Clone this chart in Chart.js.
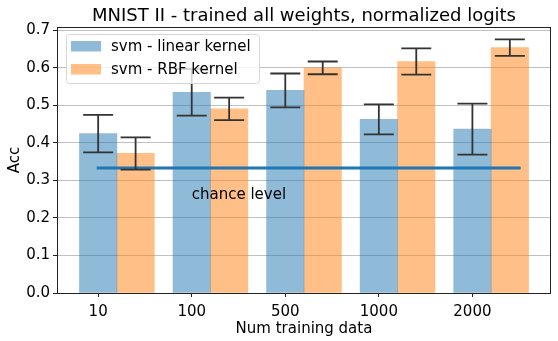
<!DOCTYPE html>
<html lang="en">
<head>
    <meta charset="UTF-8">
    <title>MNIST II - trained all weights, normalized logits</title>
    <script src="https://cdn.jsdelivr.net/npm/chart.js"></script>
    <style>
        html, body { margin: 0; padding: 0; background: #fff; }
        #wrap { width: 558px; height: 341px; position: relative; }
    </style>
</head>
<body>
    <div id="wrap"><canvas id="chart"></canvas></div>

    <script>
        // data
        const categories = ['10', '100', '500', '1000', '2000'];
        const linearAcc = [0.425, 0.535, 0.540, 0.463, 0.437];
        const linearErr = [0.050, 0.062, 0.045, 0.040, 0.068];
        const rbfAcc = [0.372, 0.491, 0.600, 0.617, 0.654];
        const rbfErr = [0.043, 0.030, 0.017, 0.035, 0.022];
        const chanceLevel = 0.333;
        const chanceSpan = [0, 4.5];
        const yTicks = [0, 0.1, 0.2, 0.3, 0.4, 0.5, 0.6, 0.7];

        const FONT = 'DejaVu Sans';
        Chart.defaults.font.family = FONT;
        Chart.defaults.color = '#000';

        const barOffset = 0.4;   // rbf bar sits right next to the linear one

        const linearData = linearAcc.map((v, i) => ({x: i, y: v}));
        const rbfData = rbfAcc.map((v, i) => ({x: i + barOffset, y: v}));
        const chanceData = chanceSpan.map(x => ({x: x, y: chanceLevel}));

        const errorBars = {
            id: 'errorBars',
            afterDatasetsDraw(chart) {
                const ctx = chart.ctx;
                const ys = chart.scales.y;
                const sets = [[0, linearAcc, linearErr], [1, rbfAcc, rbfErr]];
                ctx.save();
                ctx.strokeStyle = '#333';
                ctx.lineWidth = 1.8;
                sets.forEach(([idx, vals, errs]) => {
                    const meta = chart.getDatasetMeta(idx);
                    meta.data.forEach((bar, i) => {
                        const top = ys.getPixelForValue(vals[i] + errs[i]);
                        const bot = ys.getPixelForValue(vals[i] - errs[i]);
                        ctx.beginPath();
                        ctx.moveTo(bar.x, top); ctx.lineTo(bar.x, bot);
                        ctx.moveTo(bar.x - 15, top); ctx.lineTo(bar.x + 15, top);
                        ctx.moveTo(bar.x - 15, bot); ctx.lineTo(bar.x + 15, bot);
                        ctx.stroke();
                    });
                });
                // chance level label
                ctx.fillStyle = '#000';
                ctx.font = '15px "' + FONT + '"';
                ctx.textBaseline = 'alphabetic';
                ctx.textAlign = 'left';
                ctx.fillText('chance level', chart.scales.x.getPixelForValue(1), ys.getPixelForValue(0.25));
                ctx.restore();
            },
            afterDraw(chart) {
                const ctx = chart.ctx;
                const a = chart.chartArea;
                ctx.save();
                // frame
                ctx.strokeStyle = '#222';
                ctx.lineWidth = 1;
                ctx.strokeRect(Math.round(a.left) + 0.5, Math.round(a.top) + 0.5,
                    Math.round(a.right - a.left) - 1, Math.round(a.bottom - a.top));

                // title
                ctx.fillStyle = '#000';
                ctx.font = '18px "' + FONT + '"';
                ctx.textAlign = 'center';
                ctx.textBaseline = 'alphabetic';
                ctx.fillText('MNIST II - trained all weights, normalized logits', (a.left + a.right) / 2, 21);

                // legend
                const lx = 66, ly = 34, lw = 193, lh = 49;
                ctx.beginPath();
                ctx.roundRect(lx + 0.5, ly + 0.5, lw, lh, 3);
                ctx.fillStyle = 'rgba(255,255,255,0.8)';
                ctx.fill();
                ctx.strokeStyle = '#d6d6d6';
                ctx.stroke();
                ctx.font = '15px "' + FONT + '"';
                ctx.textAlign = 'left';
                ctx.textBaseline = 'middle';
                [0, 1].forEach(k => {
                    const ds = chart.data.datasets[k];
                    const cy = 46 + k * 23;
                    ctx.fillStyle = ds.backgroundColor;
                    ctx.fillRect(71, cy - 5, 30, 10.5);
                    ctx.fillStyle = '#000';
                    ctx.fillText(ds.label, 111, cy + 1);
                });
                ctx.restore();
            }
        };

        new Chart(document.getElementById('chart'), {
            type: 'bar',
            data: {
                datasets: [
                    {
                        label: 'svm - linear kernel',
                        data: linearData,
                        backgroundColor: 'rgba(31,119,180,0.5)',
                        grouped: false,
                        barPercentage: 1,
                        categoryPercentage: 1,
                        order: 2
                    },
                    {
                        label: 'svm - RBF kernel',
                        data: rbfData,
                        backgroundColor: 'rgba(255,127,14,0.5)',
                        grouped: false,
                        barPercentage: 1,
                        categoryPercentage: 1,
                        order: 2
                    },
                    {
                        type: 'line',
                        label: 'chance level',
                        data: chanceData,
                        borderColor: '#1f77b4',
                        borderWidth: 3,
                        borderCapStyle: 'square',
                        pointRadius: 0,
                        fill: false,
                        order: 0
                    }
                ]
            },
            options: {
                responsive: true,
                maintainAspectRatio: false,
                animation: false,
                layout: { padding: { top: 27, right: 7, left: 0, bottom: 0 } },
                plugins: {
                    legend: { display: false },
                    tooltip: { enabled: false },
                    title: { display: false }
                },
                scales: {
                    x: {
                        type: 'linear',
                        offset: false,
                        min: -0.44,
                        max: 4.84,
                        afterBuildTicks: axis => { axis.ticks = categories.map((c, i) => ({value: i})); },
                        afterFit: axis => { axis.height = 48; },
                        ticks: {
                            callback: v => categories[v],
                            font: { size: 15 },
                            color: '#000',
                            padding: 6,
                            maxRotation: 0,
                            autoSkip: false
                        },
                        grid: { offset: false, drawOnChartArea: false, drawTicks: true, tickLength: 4, tickColor: '#222' },
                        border: { display: false },
                        title: {
                            display: true,
                            text: 'Num training data',
                            font: { size: 15 },
                            color: '#000',
                            padding: { top: 0, bottom: 3 }
                        }
                    },
                    y: {
                        min: 0,
                        max: 0.709,
                        afterBuildTicks: axis => { axis.ticks = yTicks.map(v => ({value: v})); },
                        afterFit: axis => { axis.width = 57; },
                        ticks: {
                            callback: v => v.toFixed(1),
                            font: { size: 15 },
                            color: '#000',
                            padding: 3
                        },
                        grid: { color: '#c0c0c0', lineWidth: 1, tickLength: 4, tickColor: '#222' },
                        border: { display: false },
                        title: {
                            display: true,
                            text: 'Acc',
                            font: { size: 15 },
                            color: '#000',
                            padding: { top: 6, bottom: 0 }
                        }
                    }
                }
            },
            plugins: [errorBars]
        });
    </script>
</body>
</html>
